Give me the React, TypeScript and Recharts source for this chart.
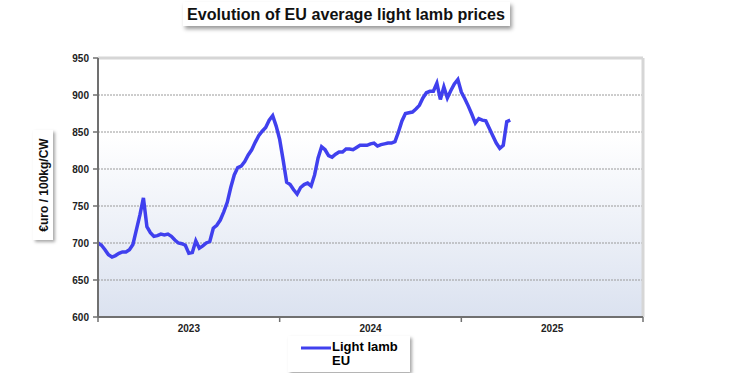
import React from 'react'
import {
  LineChart,
  Line,
  XAxis,
  YAxis,
  CartesianGrid,
  ReferenceLine,
  Legend
} from 'recharts'

// weekly prices, €/100kg carcass weight
const prices2023 = [
  700, 697, 691, 684, 681, 683, 686, 688, 688, 691,
  698, 718, 738, 761, 722, 714, 709, 710, 712, 711,
  712, 709, 704, 700, 699, 697, 686, 687, 703, 693,
  696, 700, 702, 720, 724, 731, 742, 755, 775, 792,
  802, 804, 810, 819, 826, 836, 845, 851, 856, 866,
  872, 858
]
const prices2024 = [
  840, 812, 782, 779, 772, 766, 775, 779, 781, 777,
  792, 815, 830, 826, 818, 816, 820, 823, 823, 827,
  827, 826, 829, 832, 832, 832, 834, 835, 831, 833,
  834, 835, 835, 837, 850, 865, 875, 876, 877, 881,
  886, 896, 903, 905, 905, 916, 894, 911, 896, 906,
  915, 921
]
const prices2025 = [
  904, 895, 885, 874, 862, 868, 866, 865, 855, 845,
  835, 828, 832, 864, 866
]
const yearLabels = ['2023', '2024', '2025']
const yTicks = [600, 650, 700, 750, 800, 850, 900, 950]
const WEEKS = 52

const data = [...prices2023, ...prices2024, ...prices2025].map((price, i) => ({
  week: i,
  price
}))

const AXIS = '#707070'
const LINE = '#4040ee'

// year boundaries get a tick mark, year middles get the label
const YearTick = ({ x, y, payload }: any) => {
  const v = payload.value
  if (v % WEEKS === 0) {
    return <line x1={x} x2={x} y1={y} y2={y + 5} stroke={AXIS} strokeWidth={1.5} />
  }
  return (
    <text x={x} y={y + 15} textAnchor="middle" fontSize={10} fontWeight="bold" fill="#222">
      {yearLabels[(v - WEEKS / 2) / WEEKS]}
    </text>
  )
}

const LegendBox = () => (
  <div
    style={{
      width: 122,
      height: 36,
      background: '#fff',
      boxShadow: '2px 2px 3px rgba(0,0,0,0.35)',
      fontFamily: '"Liberation Sans", Arial, sans-serif',
      fontWeight: 'bold',
      fontSize: 13,
      lineHeight: '14px',
      position: 'relative'
    }}
  >
    <svg width={32} height={10} style={{ position: 'absolute', left: 13, top: 7 }}>
      <line x1={0} x2={30} y1={5} y2={5} stroke={LINE} strokeWidth={3} />
    </svg>
    <div style={{ position: 'absolute', left: 44, top: 4 }}>
      Light lamb
      <br />
      EU
    </div>
  </div>
)

const App: React.FC = () => {
  return (
    <div style={{ position: 'absolute', left: 0, top: 0, width: 738, height: 373, background: '#fff' }}>
      {/* title box */}
      <div
        style={{
          position: 'absolute',
          left: 183,
          top: 2,
          width: 327,
          height: 24,
          background: '#fff',
          boxShadow: '2px 3px 4px rgba(0,0,0,0.4)'
        }}
      />
      <svg
        width={440}
        height={30}
        style={{ position: 'absolute', left: 183, top: 0, overflow: 'visible' }}
      >
        <text
          x={4}
          y={20}
          fontSize={17}
          fontWeight="bold"
          fontFamily='"Liberation Sans Narrow", "Liberation Sans", Arial, sans-serif'
          textLength={318}
          lengthAdjust="spacingAndGlyphs"
          fill="#111"
        >
          Evolution of EU average light lamb prices
        </text>
      </svg>

      {/* y axis title */}
      <div
        style={{
          position: 'absolute',
          left: 33,
          top: 130,
          width: 20,
          height: 110,
          background: '#fff',
          boxShadow: '2px 2px 3px rgba(0,0,0,0.35)'
        }}
      >
        <svg width={20} height={110}>
          <text
            x={0}
            y={0}
            transform="translate(15,55) rotate(-90)"
            textAnchor="middle"
            fontSize={12}
            fontWeight="bold"
            fontFamily='"Liberation Sans", Arial, sans-serif'
            fill="#111"
          >
            €uro / 100kg/CW
          </text>
        </svg>
      </div>

      <LineChart
        width={738}
        height={373}
        data={data}
        margin={{ top: 58, right: 95, bottom: 36, left: 58 }}
        style={{ fontFamily: '"Liberation Sans", Arial, sans-serif' }}
      >
        <defs>
          <linearGradient id="plotBg" x1="0" y1="0" x2="0" y2="1">
            <stop offset="0%" stopColor="#ffffff" />
            <stop offset="30%" stopColor="#ffffff" />
            <stop offset="100%" stopColor="#dbe2f0" />
          </linearGradient>
        </defs>
        <CartesianGrid
          vertical={false}
          fill="url(#plotBg)"
          stroke="#9a9a9a"
          strokeDasharray="2 1"
        />
        <XAxis
          type="number"
          dataKey="week"
          domain={[0, WEEKS * 3]}
          ticks={[0, 26, 52, 78, 104, 130, 156]}
          tick={<YearTick />}
          tickLine={false}
          tickSize={0}
          tickMargin={0}
          height={20}
          axisLine={{ stroke: AXIS, strokeWidth: 2 }}
        />
        <YAxis
          type="number"
          domain={[600, 950]}
          ticks={yTicks}
          width={40}
          tickSize={5}
          tickMargin={4}
          tickLine={{ stroke: AXIS, strokeWidth: 1.5 }}
          axisLine={{ stroke: AXIS, strokeWidth: 2 }}
          tick={{ fontSize: 10, fontWeight: 'bold', fill: '#222' }}
        />
        <ReferenceLine y={950} stroke="#d6d6d6" strokeWidth={3} />
        <ReferenceLine x={WEEKS * 3} stroke="#d6d6d6" strokeWidth={3} />
        <Legend
          layout="horizontal"
          verticalAlign="middle"
          align="center"
          content={<LegendBox />}
          wrapperStyle={{ position: 'absolute', left: 288, top: 336, width: 122 }}
        />
        <Line
          type="linear"
          dataKey="price"
          name="Light lamb EU"
          stroke={LINE}
          strokeWidth={3.5}
          dot={false}
          isAnimationActive={false}
        />
      </LineChart>
    </div>
  )
}

export default App
